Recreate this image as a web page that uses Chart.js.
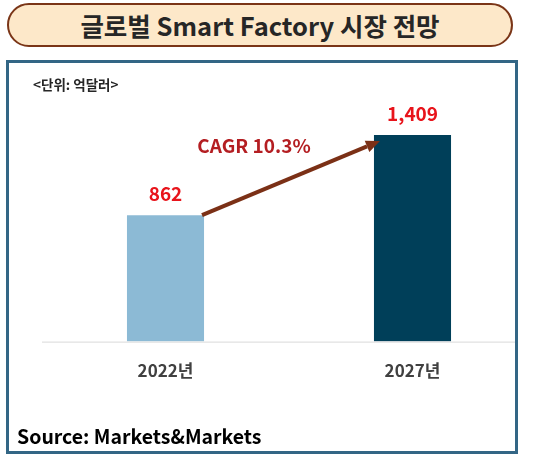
<!DOCTYPE html>
<html>
<head>
<meta charset="utf-8">
<script src="https://cdn.jsdelivr.net/npm/chart.js@4"></script>
<style>
  body { margin: 0; width: 548px; height: 460px; background: #fff; font-family: "Noto Sans CJK KR", sans-serif; position: relative; overflow: hidden; }
  #title { position: absolute; left: 7px; top: 3px; width: 506px; height: 44px; box-sizing: border-box;
    border: 2px solid #7a3517; border-radius: 22px; background: #fde8c9;
    text-align: center; line-height: 40px; font-size: 25.5px; font-weight: bold; color: #262626; }
  #box { position: absolute; left: 6px; top: 60px; width: 512px; height: 394px; box-sizing: border-box;
    border: 3px solid #336685; overflow: hidden; background: #fff; }
  #wrap { position: absolute; left: -9px; top: -63px; width: 548px; height: 460px; }
  #unit { position: absolute; left: 33px; top: 74px; font-size: 13.5px; font-weight: bold; color: #262626; }
  #source { position: absolute; left: 17px; top: 421px; font-size: 19.5px; font-weight: bold; color: #000; }
</style>
</head>
<body>
<div id="title">글로벌 Smart Factory 시장 전망</div>
<div id="box"><div id="wrap"><canvas id="myChart" width="548" height="460"></canvas></div></div>
<div id="unit">&lt;단위: 억달러&gt;</div>
<div id="source">Source: Markets&amp;Markets</div>
<script>
var years = ["2022년", "2027년"];
var marketSize = [862, 1409];
var barColors = ["#8cbad5", "#003f59"];
var cagrText = "CAGR 10.3%";

// value labels + CAGR arrow
var extras = {
  id: "extras",
  afterDatasetsDraw: function(chart) {
    var ctx = chart.ctx;
    var bars = chart.getDatasetMeta(0).data;
    ctx.save();
    ctx.font = "bold 19px 'Noto Sans CJK KR'";
    ctx.fillStyle = "#e8141b";
    ctx.textAlign = "center";
    ctx.textBaseline = "middle";
    bars.forEach(function(b, i) {
      ctx.fillText(marketSize[i].toLocaleString("en-US"), b.x, b.y - 21);
    });

    var b1 = bars[0], b2 = bars[1];
    var x1 = b1.x + b1.width / 2 - 2, y1 = b1.y;
    var x2 = b2.x - b2.width / 2 + 6, y2 = b2.y + 6;
    var ang = Math.atan2(y2 - y1, x2 - x1);
    var head = 14;
    ctx.strokeStyle = "#7b3016";
    ctx.fillStyle = "#7b3016";
    ctx.lineWidth = 4;
    ctx.beginPath();
    ctx.moveTo(x1, y1);
    ctx.lineTo(x2 - head * Math.cos(ang), y2 - head * Math.sin(ang));
    ctx.stroke();
    ctx.beginPath();
    ctx.moveTo(x2, y2);
    ctx.lineTo(x2 - head * Math.cos(ang) + 6 * Math.sin(ang), y2 - head * Math.sin(ang) - 6 * Math.cos(ang));
    ctx.lineTo(x2 - head * Math.cos(ang) - 6 * Math.sin(ang), y2 - head * Math.sin(ang) + 6 * Math.cos(ang));
    ctx.closePath();
    ctx.fill();

    ctx.font = "bold 19px 'Noto Sans CJK KR'";
    ctx.fillStyle = "#b41e22";
    ctx.fillText(cagrText, 254, 146);

    // baseline
    ctx.strokeStyle = "#d9d9d9";
    ctx.lineWidth = 1;
    ctx.beginPath();
    ctx.moveTo(chart.chartArea.left, chart.chartArea.bottom + 0.5);
    ctx.lineTo(chart.chartArea.right, chart.chartArea.bottom + 0.5);
    ctx.stroke();
    ctx.restore();
  }
};

var ctx = document.getElementById("myChart").getContext("2d");
new Chart(ctx, {
  type: "bar",
  data: {
    labels: years,
    datasets: [
      {
        data: marketSize,
        backgroundColor: barColors,
        barPercentage: 0.312,
        categoryPercentage: 1
      }
    ]
  },
  options: {
    responsive: false,
    animation: false,
    devicePixelRatio: 1,
    layout: { padding: { left: 42, right: 12, top: 107, bottom: 68 } },
    plugins: { legend: { display: false }, tooltip: { enabled: false } },
    scales: {
      x: {
        grid: { display: false },
        border: { display: false },
        ticks: { padding: 11, color: "#404040", font: { family: "Noto Sans CJK KR", size: 17, weight: "bold" } }
      },
      y: { display: false, min: 0, max: 1600 }
    }
  },
  plugins: [extras]
});
</script>
</body>
</html>
